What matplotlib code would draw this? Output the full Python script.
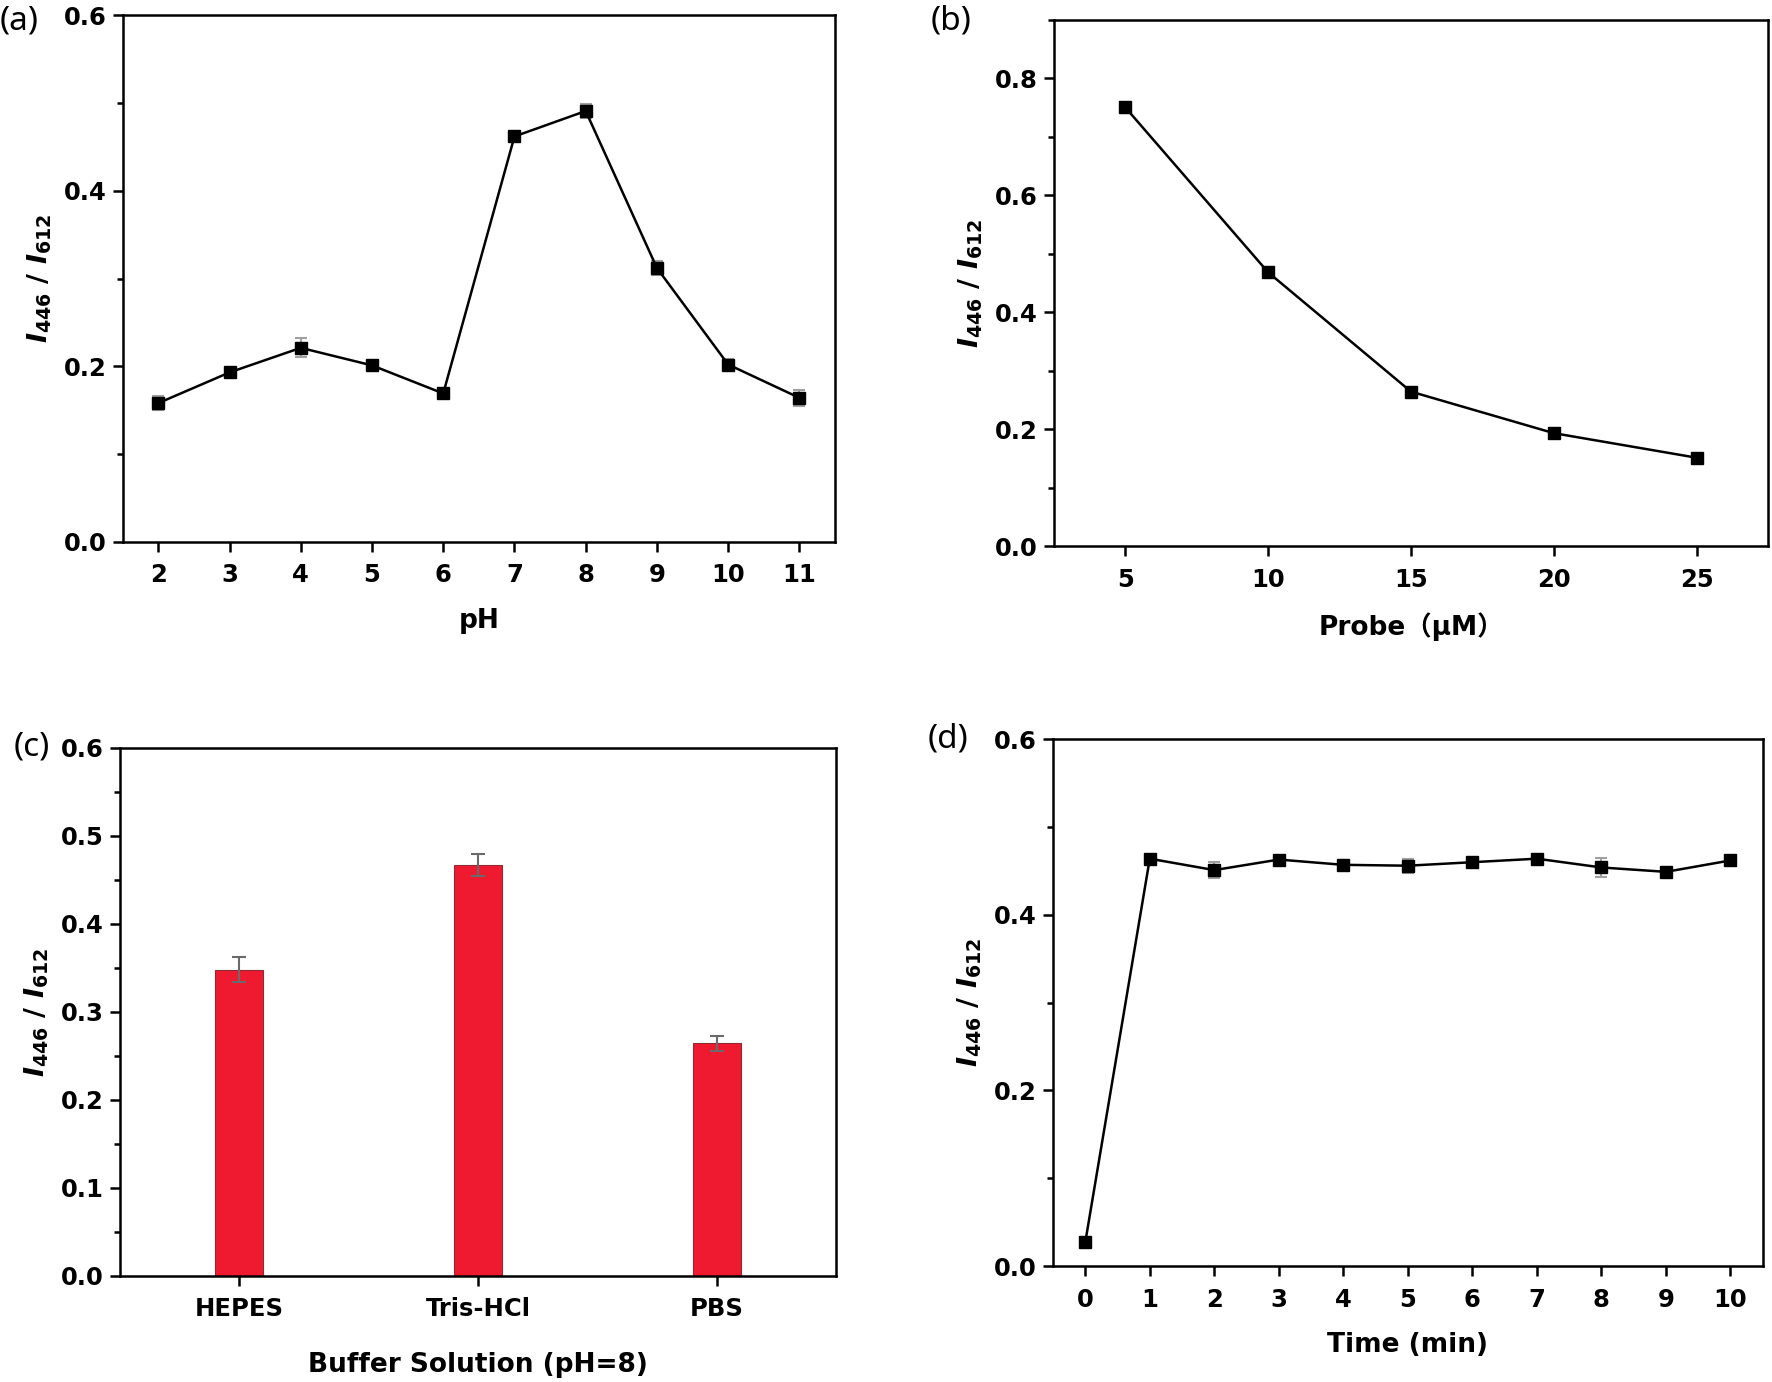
import matplotlib
matplotlib.use('Agg')
import matplotlib.pyplot as plt
from matplotlib.ticker import MultipleLocator

plt.rcParams['font.family'] = 'DejaVu Sans'
plt.rcParams['font.weight'] = 'bold'
plt.rcParams['axes.labelweight'] = 'bold'
plt.rcParams['mathtext.fontset'] = 'custom'
plt.rcParams['mathtext.it'] = 'DejaVu Sans:bold:italic'
plt.rcParams['mathtext.rm'] = 'DejaVu Sans:bold'
plt.rcParams['mathtext.bf'] = 'DejaVu Sans:bold'

# (a) pH
ph = [2, 3, 4, 5, 6, 7, 8, 9, 10, 11]
ratio_ph = [0.158, 0.193, 0.221, 0.201, 0.169, 0.462, 0.491, 0.312, 0.202, 0.164]
err_ph = [0.008, 0.003, 0.011, 0.003, 0.003, 0.003, 0.008, 0.008, 0.006, 0.009]

# (b) probe concentration
probe = [5, 10, 15, 20, 25]
ratio_probe = [0.750, 0.468, 0.264, 0.193, 0.151]
err_probe = [0.010, 0.007, 0.003, 0.003, 0.003]

# (c) buffers
buffers = ['HEPES', 'Tris-HCl', 'PBS']
ratio_buf = [0.348, 0.467, 0.264]
err_buf = [0.014, 0.012, 0.009]

# (d) time
time_min = [0, 1, 2, 3, 4, 5, 6, 7, 8, 9, 10]
ratio_time = [0.027, 0.464, 0.451, 0.463, 0.457, 0.456, 0.460, 0.464, 0.454, 0.449, 0.462]
err_time = [0.002, 0.004, 0.009, 0.003, 0.005, 0.008, 0.003, 0.003, 0.011, 0.003, 0.004]

W, H = 1772, 1382
fig = plt.figure(figsize=(W / 100, H / 100), dpi=100)


def box(l, t, r, b):
    return fig.add_axes([l / W, 1 - b / H, (r - l) / W, (b - t) / H])


ylab = r'$I_{\mathrm{446}}$ / $I_{\mathrm{612}}$'


def style(ax):
    for s in ax.spines.values():
        s.set_linewidth(1.8)
    ax.tick_params(axis='both', which='both', direction='out', top=False, right=False,
                   width=1.8, labelsize=17.5)
    ax.tick_params(axis='both', which='major', length=7.5)
    ax.tick_params(axis='both', which='minor', length=4.5)
    ax.tick_params(axis='x', pad=8)
    ax.tick_params(axis='y', pad=4)
    ax.set_ylabel(ylab, fontsize=19.5, labelpad=7)


def line_panel(ax, x, y, e):
    ax.errorbar(x, y, yerr=e, fmt='none', ecolor='#a0a0a0', elinewidth=1.5,
                capsize=4, capthick=1.5, zorder=2)
    ax.plot(x, y, color='black', lw=1.8, marker='s', ms=8.5, zorder=3)


axa = box(122.7, 15.4, 835, 541.7)
line_panel(axa, ph, ratio_ph, err_ph)
axa.set_xlim(1.5, 11.5)
axa.set_ylim(0, 0.6)
axa.set_xticks(ph)
axa.yaxis.set_major_locator(MultipleLocator(0.2))
axa.yaxis.set_minor_locator(MultipleLocator(0.1))
style(axa)
axa.set_xlabel('pH', fontsize=19, labelpad=15)

axb = box(1054, 19.8, 1768, 546)
line_panel(axb, probe, ratio_probe, err_probe)
axb.set_xlim(2.5, 27.5)
axb.set_ylim(0, 0.9)
axb.set_xticks(probe)
axb.yaxis.set_major_locator(MultipleLocator(0.2))
axb.yaxis.set_minor_locator(MultipleLocator(0.1))
style(axb)
axb.set_xlabel('Probe\uff08\u03bcM\uff09', fontsize=19, labelpad=15, fontweight='bold',
               family=['DejaVu Sans', 'Noto Sans CJK SC'])

axc = box(120, 748, 836, 1275.6)
xb = range(len(buffers))
axc.bar(xb, ratio_buf, width=0.2, color='#f01a30', edgecolor='#8c2a35',
        linewidth=0.8, zorder=2)
axc.errorbar(xb, ratio_buf, yerr=err_buf, fmt='none', ecolor='#6a6a6a',
             elinewidth=1.5, capsize=5, capthick=1.5, zorder=3)
axc.set_xlim(-0.5, 2.5)
axc.set_ylim(0, 0.6)
axc.set_xticks(list(xb))
axc.set_xticklabels(buffers)
axc.yaxis.set_major_locator(MultipleLocator(0.1))
axc.yaxis.set_minor_locator(MultipleLocator(0.05))
style(axc)
axc.set_xlabel('Buffer Solution (pH=8)', fontsize=19, labelpad=22)

axd = box(1053, 739.3, 1762.7, 1266)
line_panel(axd, time_min, ratio_time, err_time)
axd.set_xlim(-0.5, 10.5)
axd.set_ylim(0, 0.6)
axd.set_xticks(time_min)
axd.yaxis.set_major_locator(MultipleLocator(0.2))
axd.yaxis.set_minor_locator(MultipleLocator(0.1))
style(axd)
axd.set_xlabel('Time (min)', fontsize=19, labelpad=15)

for lab, x, y in [('(a)', 0, 4), ('(b)', 931, 4), ('(c)', 14, 730), ('(d)', 928, 722)]:
    fig.text(x / W, 1 - y / H, lab, fontsize=24, fontweight='normal',
             family='Noto Sans', ha='left', va='top')

fig.savefig('out.png', dpi=100, facecolor='white')
